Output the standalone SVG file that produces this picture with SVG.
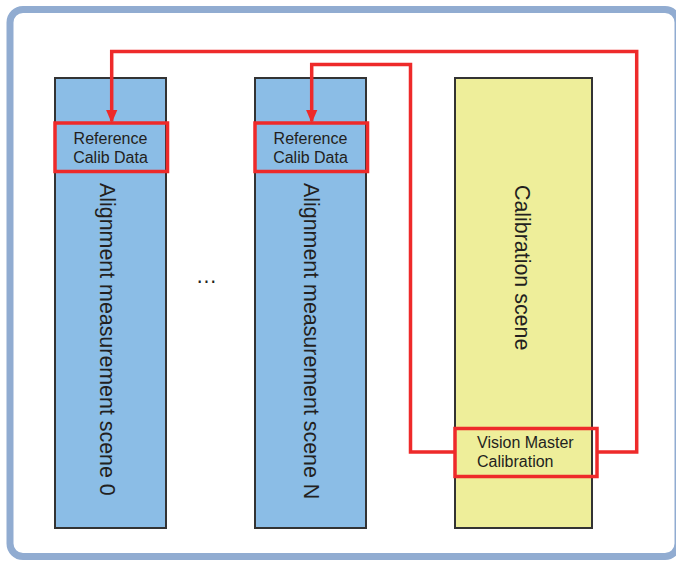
<svg xmlns="http://www.w3.org/2000/svg" width="676" height="562" viewBox="0 0 676 562">
<style>
.frame{fill:#ffffff;stroke:#91acd1;stroke-width:7}
.scene{stroke:#333333;stroke-width:2}
.blue{fill:#8bbde6}
.yellow{fill:#eeee9a}
.hl{fill:none;stroke:#ee2a2a;stroke-width:3.5}
.wire{fill:none;stroke:#ee2a2a;stroke-width:3.5;stroke-linejoin:miter}
.t{font-family:"Liberation Sans",Arial,sans-serif;fill:#231f20}
.small{font-size:16px}
.big{font-size:21.4px}
</style>
<defs>
<marker id="arr" markerWidth="13" markerHeight="15" refX="13" refY="6.5" orient="auto" markerUnits="userSpaceOnUse" viewBox="0 0 15 13">
<path d="M0,0 L15,6.5 L0,13 Z" fill="#ee2a2a"/>
</marker>
</defs>
<rect class="frame" x="10" y="9.5" width="668" height="547" rx="13"/>

<g id="scene0">
<rect class="scene blue" x="55" y="78" width="111" height="450"/>
<text class="t big" transform="translate(100,183) rotate(90)">Alignment measurement scene 0</text>
</g>
<g id="ref0">
<rect class="hl" x="55" y="123" width="112.5" height="48.5"/>
<text class="t small" x="110.5" y="144.3" text-anchor="middle">Reference</text>
<text class="t small" x="110.5" y="163.3" text-anchor="middle">Calib Data</text>
</g>

<g id="ellipsis">
<text class="t big" x="206.5" y="283" text-anchor="middle">…</text>
</g>

<g id="sceneN">
<rect class="scene blue" x="255" y="78" width="111" height="450"/>
<text class="t big" transform="translate(304,183) rotate(90)">Alignment measurement scene N</text>
</g>
<g id="refN">
<rect class="hl" x="255" y="123" width="112.5" height="48.5"/>
<text class="t small" x="310.5" y="144.3" text-anchor="middle">Reference</text>
<text class="t small" x="310.5" y="163.3" text-anchor="middle">Calib Data</text>
</g>

<g id="calib">
<rect class="scene yellow" x="455" y="78" width="137" height="450"/>
<text class="t big" transform="translate(515,185) rotate(90)">Calibration scene</text>
</g>
<g id="vm">
<rect class="hl" x="455" y="428.5" width="142" height="48"/>
<text class="t small" x="477" y="448">Vision Master</text>
<text class="t small" x="477" y="467">Calibration</text>
</g>

<g id="connectors">
<polyline class="wire" points="597,452 636.7,452 636.7,51.5 111.7,51.5 111.7,121.3" marker-end="url(#arr)"/>
<polyline class="wire" points="455,452 410.5,452 410.5,64.5 311.7,64.5 311.7,121.3" marker-end="url(#arr)"/>
</g>
</svg>
